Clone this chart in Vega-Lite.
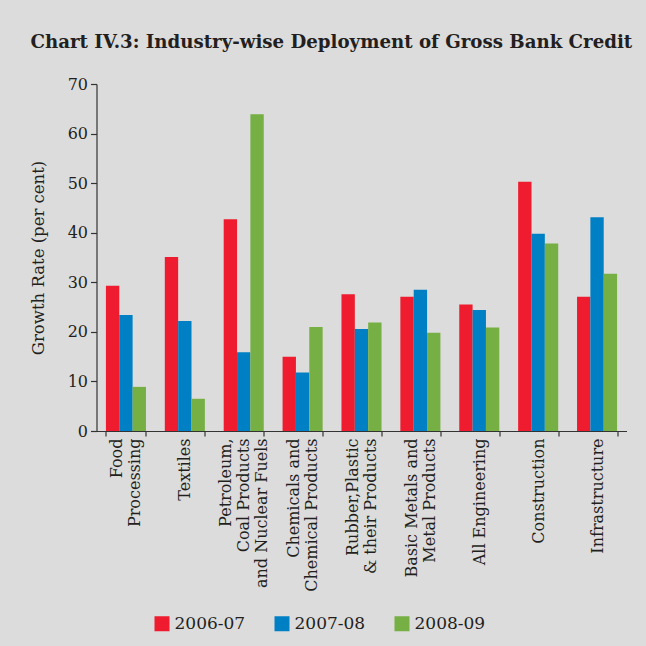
{
  "$schema": "https://vega.github.io/schema/vega-lite/v6.json",
  "width": 530,
  "height": 347,
  "autosize": {"type": "none"},
  "padding": {"left": 96.5, "top": 84, "right": 19.5, "bottom": 215},
  "background": "#dcdcdc",
  "title": {
    "text": "Chart IV.3: Industry-wise Deployment of Gross Bank Credit",
    "anchor": "start",
    "frame": "group",
    "dx": -66,
    "offset": 24,
    "font": "DejaVu Serif",
    "fontSize": 18.2,
    "fontWeight": "bold",
    "color": "#231f20"
  },
  "config": {"view": {"stroke": null}},
  "data": {
    "values": [
      {"industry": "Food|Processing", "year": "2006-07", "value": 29.3},
      {"industry": "Food|Processing", "year": "2007-08", "value": 23.4},
      {"industry": "Food|Processing", "year": "2008-09", "value": 8.9},
      {"industry": "Textiles", "year": "2006-07", "value": 35.1},
      {"industry": "Textiles", "year": "2007-08", "value": 22.2},
      {"industry": "Textiles", "year": "2008-09", "value": 6.5},
      {"industry": "Petroleum,|Coal Products|and Nuclear Fuels", "year": "2006-07", "value": 42.7},
      {"industry": "Petroleum,|Coal Products|and Nuclear Fuels", "year": "2007-08", "value": 15.9},
      {"industry": "Petroleum,|Coal Products|and Nuclear Fuels", "year": "2008-09", "value": 63.9},
      {"industry": "Chemicals and|Chemical Products", "year": "2006-07", "value": 15.0},
      {"industry": "Chemicals and|Chemical Products", "year": "2007-08", "value": 11.8},
      {"industry": "Chemicals and|Chemical Products", "year": "2008-09", "value": 21.0},
      {"industry": "Rubber,Plastic|& their Products", "year": "2006-07", "value": 27.6},
      {"industry": "Rubber,Plastic|& their Products", "year": "2007-08", "value": 20.6},
      {"industry": "Rubber,Plastic|& their Products", "year": "2008-09", "value": 21.9},
      {"industry": "Basic Metals and|Metal Products", "year": "2006-07", "value": 27.1},
      {"industry": "Basic Metals and|Metal Products", "year": "2007-08", "value": 28.5},
      {"industry": "Basic Metals and|Metal Products", "year": "2008-09", "value": 19.8},
      {"industry": "All Engineering", "year": "2006-07", "value": 25.5},
      {"industry": "All Engineering", "year": "2007-08", "value": 24.4},
      {"industry": "All Engineering", "year": "2008-09", "value": 20.9},
      {"industry": "Construction", "year": "2006-07", "value": 50.3},
      {"industry": "Construction", "year": "2007-08", "value": 39.8},
      {"industry": "Construction", "year": "2008-09", "value": 37.8},
      {"industry": "Infrastructure", "year": "2006-07", "value": 27.1},
      {"industry": "Infrastructure", "year": "2007-08", "value": 43.1},
      {"industry": "Infrastructure", "year": "2008-09", "value": 31.7}
    ]
  },
  "mark": {"type": "bar", "strokeWidth": 0},
  "encoding": {
    "x": {
      "field": "industry",
      "type": "nominal",
      "sort": null,
      "scale": {"paddingInner": 0.32, "paddingOuter": 0.16},
      "axis": {
        "title": null,
        "labelAngle": -90,
        "labelAlign": "right",
        "labelBaseline": "middle",
        "labelExpr": "split(datum.label, '|')",
        "labelLineHeight": 18,
        "labelLimit": 300,
        "labelFont": "DejaVu Serif",
        "labelFontSize": 16,
        "labelColor": "#231f20",
        "labelPadding": 2,
        "labelOffset": {
          "condition": [
            {"test": "length(split(datum.value, '|')) == 3", "value": -18},
            {"test": "length(split(datum.value, '|')) == 2", "value": -9}
          ],
          "value": 0
        },
        "tickBand": "extent",
        "tickSize": 5,
        "tickColor": "#333333",
        "domainColor": "#333333",
        "domainWidth": 1.2,
        "tickWidth": 1.2
      }
    },
    "xOffset": {"field": "year", "type": "nominal", "scale": {"paddingInner": 0, "paddingOuter": 0}},
    "y": {
      "field": "value",
      "type": "quantitative",
      "scale": {"domain": [0, 70], "nice": false},
      "axis": {
        "title": "Growth Rate (per cent)",
        "values": [0, 10, 20, 30, 40, 50, 60, 70],
        "grid": false,
        "titleFont": "DejaVu Serif",
        "titleFontSize": 16.5,
        "titleFontWeight": "normal",
        "titleColor": "#231f20",
        "titlePadding": 21,
        "labelFont": "DejaVu Serif",
        "labelFontSize": 16,
        "labelColor": "#231f20",
        "labelPadding": 3,
        "tickSize": 6,
        "tickColor": "#333333",
        "domainColor": "#333333",
        "domainWidth": 1.2,
        "tickWidth": 1.2
      }
    },
    "color": {
      "field": "year",
      "type": "nominal",
      "scale": {"domain": ["2006-07", "2007-08", "2008-09"], "range": ["#ee1c2e", "#0080c4", "#76af43"]},
      "legend": {
        "orient": "none",
        "legendX": 57,
        "legendY": 531,
        "direction": "horizontal",
        "title": null,
        "symbolType": "square",
        "symbolSize": 225,
        "symbolStrokeWidth": 0,
        "labelFont": "DejaVu Serif",
        "labelFontSize": 17,
        "labelColor": "#231f20",
        "labelOffset": 4,
        "columnPadding": 28
      }
    }
  }
}
